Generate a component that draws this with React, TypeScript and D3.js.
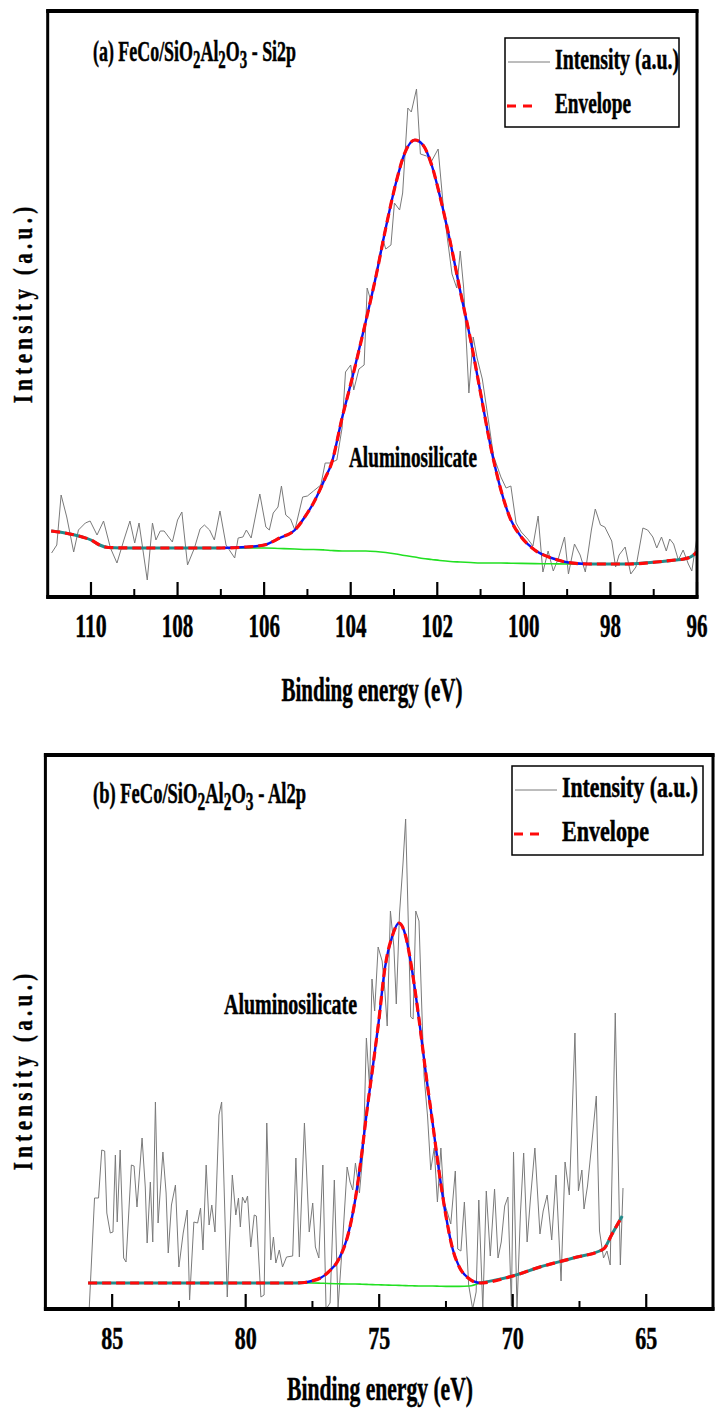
import React from 'react'
import * as d3 from 'd3'

/* page size and font */
const width = 722
const height = 1420
const FONT = '"Liberation Serif", "Times New Roman", serif'

/* (a) Si2p - raw spectrum, binding energy (eV) and intensity (a.u.) */
const siEnergy = [
    110.91, 110.79, 110.69, 110.56, 110.4, 110.29, 110.13, 110.02, 109.86, 109.71,
    109.55, 109.4, 109.24, 109.1, 108.99, 108.89, 108.7, 108.58, 108.5, 108.4,
    108.31, 108.12, 108.0, 107.9, 107.77, 107.61, 107.48, 107.38, 107.26, 107.15,
    107.02, 106.88, 106.68, 106.6, 106.49, 106.41, 106.3, 106.1, 105.96, 105.88,
    105.79, 105.68, 105.6, 105.5, 105.39, 105.29, 105.11, 105.0, 104.86, 104.69,
    104.59, 104.47, 104.32, 104.2, 104.12, 104.0, 103.93, 103.81, 103.69, 103.62,
    103.54, 103.46, 103.26, 103.19, 103.07, 102.99, 102.87, 102.8, 102.68, 102.6,
    102.48, 102.39, 102.25, 102.13, 101.98, 101.86, 101.66, 101.55, 101.47, 101.39,
    101.27, 101.17, 101.08, 100.96, 100.84, 100.7, 100.53, 100.41, 100.3, 100.18,
    100.06, 99.91, 99.79, 99.67, 99.56, 99.44, 99.32, 99.2, 99.06, 98.97,
    98.83, 98.7, 98.58, 98.44, 98.35, 98.23, 98.13, 97.97, 97.88, 97.8,
    97.66, 97.53, 97.41, 97.25, 97.14, 97.02, 96.93, 96.82, 96.71, 96.63,
    96.54, 96.43, 96.32, 96.2, 96.12, 96.0,
]
const siCounts = [
    44, 52, 102, 80, 45, 67, 74, 76, 62, 76,
    49, 34, 57, 76, 54, 74, 17, 74, 57, 66,
    66, 55, 77, 85, 32, 49, 68, 72, 67, 57,
    86, 52, 39, 59, 60, 67, 59, 103, 70, 67,
    84, 90, 111, 82, 78, 67, 100, 101, 106, 112,
    134, 134, 137, 169, 225, 232, 207, 228, 232, 309,
    297, 313, 358, 348, 352, 394, 387, 404, 489, 485,
    508, 443, 441, 436, 448, 390, 323, 309, 346, 309,
    204, 260, 239, 218, 183, 141, 120, 109, 111, 74,
    65, 58, 51, 81, 25, 46, 26, 39, 60, 23,
    53, 42, 25, 67, 88, 72, 70, 56, 30, 42,
    50, 23, 30, 69, 67, 60, 49, 60, 46, 58,
    53, 37, 47, 33, 26, 60,
]
/* (a) fitted curves */
const siFitEnergy = [
    110.92, 110.6, 110.2, 110.0, 109.8, 109.6, 109.0, 108.0, 107.0, 106.4,
    106.0, 105.64, 105.29, 105.0, 104.86, 104.6, 104.44, 104.2, 103.97, 103.65,
    103.42, 103.19, 102.95, 102.76, 102.52, 102.33, 102.13, 101.94, 101.7, 101.47,
    101.23, 101.0, 100.77, 100.53, 100.3, 100.06, 99.75, 99.36, 98.97, 98.5,
    98.0, 97.56, 96.94, 96.5, 96.3, 96.15, 96.0,
]
const siEnvelope = [
    66, 64, 60, 57, 52, 49.5, 49, 49, 49, 50,
    52, 59, 67, 84, 94, 118, 134, 179, 218, 276,
    320, 369, 415, 443, 457, 452, 432, 401, 355, 306,
    257, 204, 151, 107, 77, 60, 47, 39, 34.5, 33,
    33, 33, 35, 37, 38, 40, 45,
]
const siBackground = [
    66, 64, 60, 57, 52, 49.5, 49, 49, 49, 49,
    49, 48.5, 48, 47.5, 47.5, 47, 46.5, 46, 46, 46,
    45.5, 44.5, 43, 41.5, 40, 38.5, 37.5, 36.5, 35.5, 35,
    34.5, 34, 34, 34, 33.8, 33.6, 33.4, 33.2, 33, 33,
    33, 33, 35, 37, 38, 40, 45,
]
const siTicks = [110, 108, 106, 104, 102, 100, 98, 96]
const siMinorTicks = [109, 107, 105, 103, 101, 99, 97]

/* (b) Al2p - raw spectrum */
const alEnergy = [
    85.86, 85.66, 85.51, 85.39, 85.28, 85.2, 85.07, 84.97, 84.88, 84.81,
    84.7, 84.57, 84.48, 84.28, 84.18, 84.07, 83.88, 83.76, 83.69, 83.57,
    83.48, 83.38, 83.28, 83.1, 82.98, 82.9, 82.78, 82.63, 82.5, 82.34,
    82.19, 82.1, 81.94, 81.8, 81.69, 81.6, 81.48, 81.37, 81.27, 81.15,
    81.0, 80.9, 80.69, 80.5, 80.37, 80.27, 80.2, 80.12, 80.02, 79.93,
    79.81, 79.68, 79.6, 79.43, 79.31, 79.21, 79.06, 78.96, 78.87, 78.74,
    78.62, 78.47, 78.24, 78.12, 77.99, 77.8, 77.62, 77.49, 77.39, 77.26,
    77.11, 76.99, 76.84, 76.68, 76.54, 76.36, 76.2, 76.09, 75.99, 75.89,
    75.74, 75.59, 75.48, 75.36, 75.27, 75.17, 75.04, 74.89, 74.79, 74.7,
    74.58, 74.45, 74.36, 74.24, 74.11, 74.01, 73.91, 73.82, 73.73, 73.63,
    73.51, 73.41, 73.32, 73.19, 73.07, 72.94, 72.82, 72.69, 72.57, 72.44,
    72.32, 72.15, 72.06, 71.94, 71.81, 71.65, 71.5, 71.37, 71.27, 71.12,
    70.99, 70.84, 70.68, 70.55, 70.43, 70.3, 70.18, 70.05, 69.97, 69.84,
    69.71, 69.59, 69.46, 69.34, 69.17, 68.98, 68.86, 68.71, 68.54, 68.38,
    68.19, 68.04, 67.88, 67.67, 67.54, 67.41, 67.33, 67.2, 67.04, 66.87,
    66.75, 66.6, 66.47, 66.35, 66.16, 65.97, 65.87,
]
const alCounts = [
    0, 111, 111, 159, 158, 96, 76, 77, 154, 87,
    159, 51, 47, 144, 143, 102, 171, 122, 66, 127,
    67, 207, 86, 157, 116, 56, 104, 124, 42, 76,
    99, 9, 87, 86, 101, 59, 144, 84, 104, 77,
    194, 207, 12, 134, 94, 111, 82, 112, 106, 113,
    62, 94, 93, 12, 14, 186, 49, 72, 46, 59,
    42, 52, 53, 151, 52, 186, 77, 106, 62, 51,
    144, 0, 6, 129, 2, 72, 142, 127, 119, 146,
    116, 161, 271, 222, 330, 298, 362, 348, 319, 283,
    398, 362, 305, 395, 445, 490, 386, 292, 290, 398,
    388, 305, 233, 193, 139, 161, 107, 161, 107, 96,
    85, 138, 60, 58, 107, 24, 0, 17, 109, 0,
    118, 53, 120, 51, 67, 103, 112, 3, 157, 0,
    96, 156, 67, 109, 161, 75, 98, 114, 69, 134,
    28, 147, 114, 276, 118, 139, 100, 123, 165, 213,
    78, 51, 58, 44, 296, 44, 121,
]
/* (b) fitted curves */
const alFitEnergy = [
    85.9, 84.0, 82.0, 80.0, 78.2, 77.8, 77.53, 77.2, 76.9, 76.53,
    76.15, 75.9, 75.65, 75.47, 75.25, 75.03, 74.78, 74.51, 74.26, 74.01,
    73.76, 73.51, 73.26, 73.0, 72.75, 72.5, 72.25, 72.0, 71.62, 71.24,
    70.0, 68.98, 67.73, 66.6, 66.28, 65.9,
]
const alEnvelope = [
    26, 26, 26, 26, 26, 26.5, 28, 31, 37, 49,
    76, 109, 156, 196, 240, 285, 342, 373, 386, 373,
    337, 290, 237, 186, 136, 93, 60, 42, 30, 26,
    33, 42, 51, 60, 75, 93,
]
const alBackground = [
    26, 26, 26, 26, 26, 26, 26, 25.8, 25.5, 25.2,
    25, 25, 24.8, 24.6, 24.4, 24.2, 24, 23.8, 23.6, 23.4,
    23.2, 23, 23, 23, 22.8, 22.6, 22.6, 22.6, 23, 26,
    33, 42, 51, 60, 75, 93,
]
const alTicks = [85, 80, 75, 70, 65]
const alMinorTicks = [82.5, 77.5, 72.5, 67.5]

const legendLabels = ['Intensity (a.u.)', 'Envelope']
const peakName = 'Aluminosilicate'
const xTitle = 'Binding energy (eV)'
const yTitle = 'Intensity (a.u.)'

/* layout of the two frames (pixels) */
const panels = [
    {
        id: 'a',
        box: { left: 47.7, right: 697, top: 11, bottom: 597 },
        domain: [111, 96],
        energy: siEnergy,
        counts: siCounts,
        fitEnergy: siFitEnergy,
        envelope: siEnvelope,
        background: siBackground,
        ticks: siTicks,
        minor: siMinorTicks,
        tag: '(a)',
        line: 'Si2p',
        title: { x: 93, y: 61, w: 203 },
        legend: { x: 505, y: 38, w: 174, h: 89, text1: 124, text2: 76 },
        peak: { x: 349, y: 467, w: 128 },
        yTitleY: 305,
        tickW: 10.5,
        tickSize: 33,
        xTitle: { x: 372, y: 701, w: 181 },
    },
    {
        id: 'b',
        box: { left: 45.4, right: 713, top: 755, bottom: 1309 },
        domain: [87.5, 62.5],
        energy: alEnergy,
        counts: alCounts,
        fitEnergy: alFitEnergy,
        envelope: alEnvelope,
        background: alBackground,
        ticks: alTicks,
        minor: alMinorTicks,
        tag: '(b)',
        line: 'Al2p',
        title: { x: 93, y: 803, w: 213 },
        legend: { x: 512, y: 766, w: 191, h: 89, text1: 136, text2: 87 },
        peak: { x: 224, y: 1014, w: 133 },
        yTitleY: 1072,
        tickW: 11,
        tickSize: 31,
        xTitle: { x: 380, y: 1400, w: 186 },
    },
]

function Panel({ p }) {
    const { box } = p
    const x = d3.scaleLinear().domain(p.domain).range([box.left, box.right])
    const y = d3.scaleLinear().domain([0, box.bottom - box.top]).range([box.bottom, box.top])

    /* raw spectrum */
    const raw = p.energy.map((e, i) => [e, p.counts[i]])
    const rawPath = d3.line().x((d) => x(d[0])).y((d) => y(d[1]))(raw)

    /* fitted curves: peak part drawn blue over green background, flat part teal */
    const fit = p.fitEnergy.map((e, i) => ({
        e,
        env: p.envelope[i],
        bg: p.background[i],
        peak: p.envelope[i] - p.background[i] > 0.6,
    }))
    const near = (i) => fit[i].peak || (i > 0 && fit[i - 1].peak) || (i < fit.length - 1 && fit[i + 1].peak)
    const curve = d3.curveMonotoneX
    const bluePath = d3.line().defined((d, i) => near(i)).curve(curve).x((d) => x(d.e)).y((d) => y(d.env))(fit)
    const greenPath = d3.line().defined((d, i) => near(i)).curve(curve).x((d) => x(d.e)).y((d) => y(d.bg))(fit)
    const tealPath = d3.line().defined((d) => !d.peak).curve(curve).x((d) => x(d.e)).y((d) => y(d.env))(fit)
    const envPath = d3.line().curve(curve).x((d) => x(d.e)).y((d) => y(d.env))(fit)

    const clipId = `clip-${p.id}`
    /* condensed bold serif, a thin stroke makes it a bit heavier */
    const text = {
        fontFamily: FONT,
        fontWeight: 'bold',
        lengthAdjust: 'spacingAndGlyphs',
        stroke: '#000',
        strokeWidth: 0.5,
    }
    const lg = p.legend

    return (
        <g>
            <defs>
                <clipPath id={clipId}>
                    <rect x={box.left} y={box.top} width={box.right - box.left} height={box.bottom - box.top} />
                </clipPath>
            </defs>

            {/* data */}
            <g clipPath={`url(#${clipId})`}>
                <path d={rawPath} fill="none" stroke="#7a7a7a" strokeWidth={1} />
                <path d={greenPath} fill="none" stroke="#22e022" strokeWidth={1.6} />
                <path d={tealPath} fill="none" stroke="#238a8a" strokeWidth={3} />
                <path d={bluePath} fill="none" stroke="#0a14f0" strokeWidth={2.4} />
                <path d={envPath} fill="none" stroke="#ff0a0a" strokeWidth={3.2} strokeDasharray="9,5" />
            </g>

            {/* frame */}
            <rect
                x={box.left}
                y={box.top}
                width={box.right - box.left}
                height={box.bottom - box.top}
                fill="none"
                stroke="#000"
                strokeWidth={3}
            />
            <line x1={box.left - 1.5} x2={box.right + 1.5} y1={box.top} y2={box.top} stroke="#000" strokeWidth={4} />
            <line x1={box.left - 1.5} x2={box.right + 1.5} y1={box.bottom} y2={box.bottom} stroke="#000" strokeWidth={4} />

            {/* ticks point inward */}
            {p.ticks.map((t) => (
                <g key={`t${t}`}>
                    <line x1={x(t)} x2={x(t)} y1={box.bottom} y2={box.bottom - 15} stroke="#000" strokeWidth={2.2} />
                    <text
                        {...text}
                        x={x(t)}
                        y={box.bottom + 40}
                        fontSize={p.tickSize}
                        textAnchor="middle"
                        textLength={String(t).length * p.tickW}
                    >
                        {t}
                    </text>
                </g>
            ))}
            {p.minor.map((t) => (
                <line key={`m${t}`} x1={x(t)} x2={x(t)} y1={box.bottom} y2={box.bottom - 8} stroke="#000" strokeWidth={2} />
            ))}

            {/* axis titles */}
            <text {...text} x={p.xTitle.x} y={p.xTitle.y} fontSize={34} textAnchor="middle" textLength={p.xTitle.w}>
                {xTitle}
            </text>
            {/* letter-spaced vertical title: narrow glyphs, wide spacing */}
            <text
                fontFamily={FONT}
                fontWeight="bold"
                fontSize={28}
                stroke="#000"
                strokeWidth={0.4}
                textAnchor="middle"
                textLength={262}
                lengthAdjust="spacing"
                transform={`translate(32, ${p.yTitleY}) rotate(-90) scale(0.75, 1)`}
            >
                {yTitle}
            </text>

            {/* panel title with subscripts */}
            <text {...text} x={p.title.x} y={p.title.y} fontSize={30} textLength={p.title.w}>
                {`${p.tag} FeCo/SiO`}
                <tspan dy={7} fontSize={25}>2</tspan>
                <tspan dy={-7}>Al</tspan>
                <tspan dy={7} fontSize={25}>2</tspan>
                <tspan dy={-7}>O</tspan>
                <tspan dy={7} fontSize={25}>3</tspan>
                <tspan dy={-7}>{` - ${p.line}`}</tspan>
            </text>

            {/* peak label */}
            <text {...text} x={p.peak.x} y={p.peak.y} fontSize={30} textLength={p.peak.w}>
                {peakName}
            </text>

            {/* legend */}
            <rect x={lg.x} y={lg.y} width={lg.w} height={lg.h} fill="#fff" stroke="#000" strokeWidth={1.5} />
            <line x1={lg.x + 3} x2={lg.x + 45} y1={lg.y + 24} y2={lg.y + 24} stroke="#7a7a7a" strokeWidth={1} />
            <text {...text} x={lg.x + 50} y={lg.y + 31} fontSize={29} textLength={lg.text1}>
                {legendLabels[0]}
            </text>
            <line
                x1={lg.x + 2}
                x2={lg.x + 30}
                y1={lg.y + 68}
                y2={lg.y + 68}
                stroke="#ff0a0a"
                strokeWidth={3.2}
                strokeDasharray="9,7"
            />
            <text {...text} x={lg.x + 50} y={lg.y + 75} fontSize={29} textLength={lg.text2}>
                {legendLabels[1]}
            </text>
        </g>
    )
}

export default function App() {
    return (
        <svg
            width={width}
            height={height}
            style={{ position: 'absolute', left: 0, top: 0, background: '#fff' }}
        >
            {panels.map((p) => (
                <Panel key={p.id} p={p} />
            ))}
        </svg>
    )
}
